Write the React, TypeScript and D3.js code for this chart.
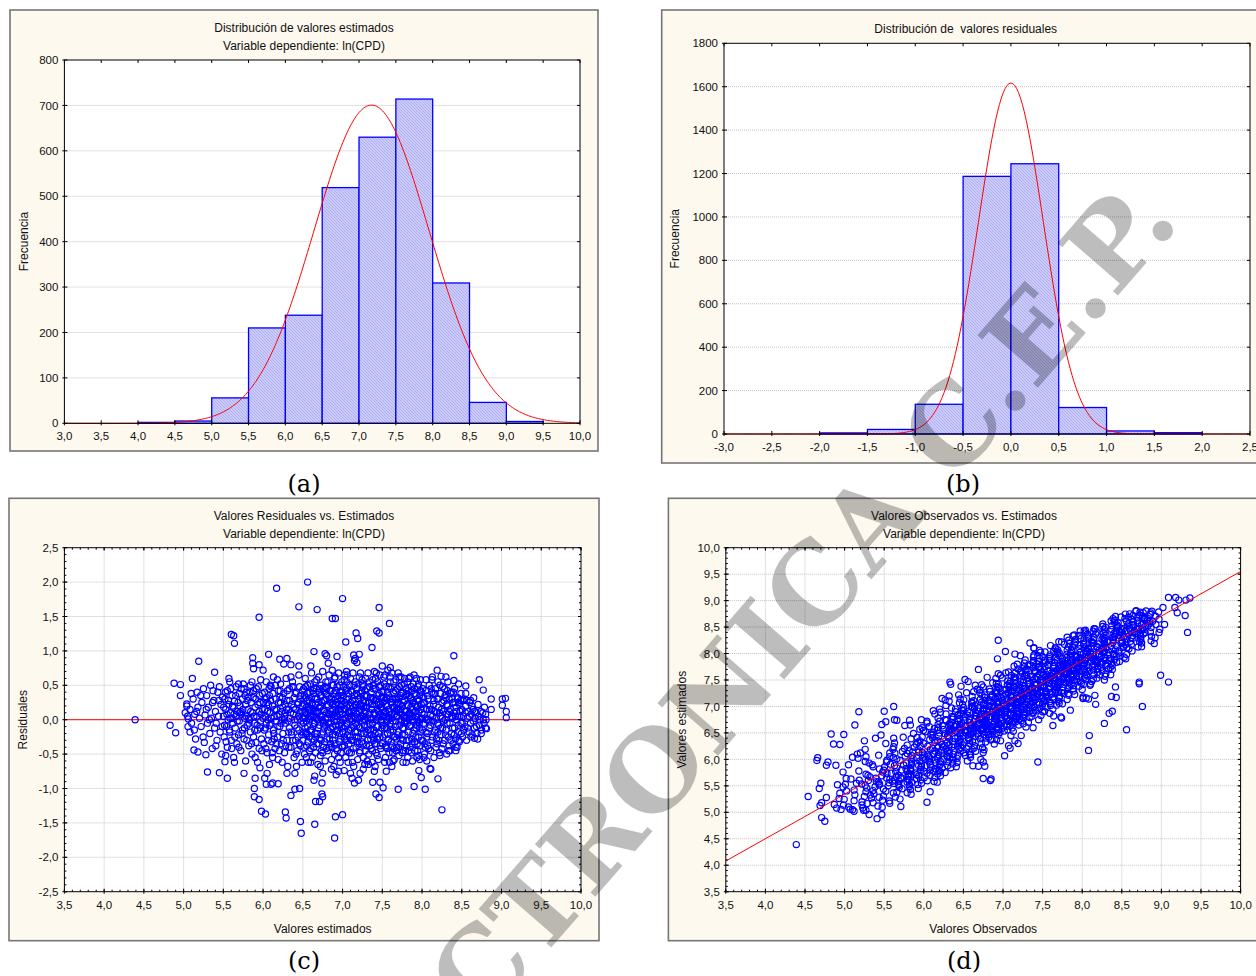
import React from 'react'
import * as d3 from 'd3'

// ---- histogram (a): valores estimados ln(CPD), bins of 0.5
const estEdges = [3.0, 3.5, 4.0, 4.5, 5.0, 5.5, 6.0, 6.5, 7.0, 7.5, 8.0, 8.5, 9.0, 9.5]
const estCounts = [0, 0, 2, 5, 56, 210, 238, 519, 630, 714, 309, 46, 4, 0]
const estXTicks = [3.0, 3.5, 4.0, 4.5, 5.0, 5.5, 6.0, 6.5, 7.0, 7.5, 8.0, 8.5, 9.0, 9.5, 10.0]
const estYTicks = [0, 100, 200, 300, 400, 500, 600, 700, 800]

// ---- histogram (b): residuales
const residEdges = [-3.0, -2.5, -2.0, -1.5, -1.0, -0.5, 0.0, 0.5, 1.0, 1.5, 2.0]
const residCounts = [0, 0, 5, 21, 137, 1187, 1245, 122, 14, 6, 0]
const residXTicks = [-3.0, -2.5, -2.0, -1.5, -1.0, -0.5, 0.0, 0.5, 1.0, 1.5, 2.0, 2.5]
const residYTicks = [0, 200, 400, 600, 800, 1000, 1200, 1400, 1600, 1800]

// fitted normal curves
const nObs = 2740
const binWidth = 0.5
const estMean = 7.17
const estSd = 0.78
const residMean = 0
const residSd = 0.338

// ---- scatter (c) / (d)
const scatterEstTicks = [3.5, 4.0, 4.5, 5.0, 5.5, 6.0, 6.5, 7.0, 7.5, 8.0, 8.5, 9.0, 9.5, 10.0]
const residTicks = [-2.5, -2.0, -1.5, -1.0, -0.5, 0.0, 0.5, 1.0, 1.5, 2.0, 2.5]
const fitIntercept = 1.135
const fitSlope = 0.8415

// observations as flat (estimado, residual) pairs; observado = estimado + residual
const outliersHigh = [
  6.56, 2.00, 6.17, 1.91, 7.00, 1.76, 6.45, 1.64, 6.68, 1.60, 7.46, 1.63, 5.95, 1.49, 6.87, 1.47,
  6.91, 1.47, 7.59, 1.40, 7.17, 1.26, 7.19, 1.18, 7.43, 1.29, 7.46, 1.26, 5.60, 1.24, 5.63, 1.22,
  5.64, 1.11, 7.04, 1.13, 7.37, 1.05, 6.64, 0.99, 6.07, 0.95, 5.19, 0.85, 8.40, 0.93, 5.87, 0.90,
  5.87, 0.82, 6.21, 0.88, 6.30, 0.89, 6.26, 0.81, 6.78, 0.96, 6.80, 0.93, 6.93, 0.92, 7.14, 0.94,
  7.16, 0.89, 7.21, 0.95, 5.39, 0.69, 5.11, 0.60, 4.88, 0.53, 4.96, 0.51, 4.96, 0.35,
  6.35, 0.80, 6.45, 0.78, 6.60, 0.78, 6.82, 0.82, 7.05, 0.70, 7.15, 0.86, 7.18, 0.83, 7.50, 0.78,
  7.60, 0.76, 5.95, 0.80, 6.00, 0.72, 5.88, 0.74, 8.19, 0.72, 8.24, 0.63, 8.30, 0.62, 8.46, 0.52,
]
const outliersLow = [
  5.13, -0.44, 5.18, -0.47, 5.28, -0.51, 5.30, -0.76, 5.45, -0.77, 5.55, -0.85, 5.52, -0.61,
  5.76, -0.78, 5.89, -1.00, 5.89, -1.12, 5.95, -1.16, 5.98, -1.33, 6.03, -1.37, 6.04, -0.94,
  6.10, -0.94, 6.19, -0.93, 6.28, -1.34, 6.29, -1.43, 6.35, -1.10, 6.40, -1.01, 6.46, -1.00,
  6.47, -1.48, 6.48, -1.65, 6.65, -1.52, 6.66, -1.19, 6.71, -1.19, 6.74, -1.08, 6.75, -1.12,
  6.90, -1.72, 6.91, -1.41, 7.00, -1.38, 6.65, -0.82, 6.74, -0.92, 7.02, -0.74, 7.38, -0.91,
  7.47, -0.91, 7.42, -1.08, 7.46, -1.13, 7.51, -0.99, 7.70, -1.01, 7.90, -0.97, 8.04, -1.01,
  8.20, -0.86, 8.25, -1.31, 7.96, -0.74, 7.99, -0.84, 8.10, -0.71, 8.11, -0.72, 8.06, -0.60,
  7.12, -0.85, 7.15, -0.92, 7.20, -0.88, 7.22, -0.78, 7.26, -0.72, 7.10, -0.78, 6.92, -0.80,
  6.86, -0.72, 6.75, -0.78, 6.64, -0.88, 6.95, -0.75, 7.55, -0.75, 7.62, -0.68, 7.40, -0.75,
  6.30, -0.78, 6.40, -0.78, 6.05, -0.78, 6.12, -0.92, 6.02, -0.85, 5.90, -0.85,
]
const outliersEnds = [
  4.39, 0.00, 4.83, -0.08, 4.90, -0.19, 5.04, 0.23, 5.05, 0.05, 5.06, 0.01, 5.08, -0.18,
  9.01, 0.30, 9.05, 0.31, 9.01, 0.21, 9.06, 0.12, 9.06, 0.03, 8.87, 0.30, 8.87, 0.15,
  8.77, 0.43, 8.72, 0.58, 8.55, 0.49, 8.61, 0.28, 8.40, 0.57, 8.66, -0.27, 8.81, -0.13,
]
const cloud50 = [
  5.02, 0.10, 5.04, 0.20, 5.08, 0.15, 5.10, -0.05, 5.12, 0.30, 5.14, 0.08, 5.15, -0.28, 5.17, 0.40,
  5.18, 0.18, 5.20, 0.02, 5.22, -0.10, 5.23, 0.25, 5.25, 0.45, 5.26, -0.33, 5.27, 0.07, 5.29, 0.35,
  5.30, -0.05, 5.31, 0.18, 5.33, -0.20, 5.34, 0.50, 5.35, 0.02, 5.36, -0.42, 5.38, 0.28, 5.39, -0.12,
  5.40, 0.12, 5.42, -0.30, 5.43, 0.40, 5.44, 0.05, 5.46, -0.18, 5.47, 0.22, 5.48, -0.50, 5.49, 0.33,
  5.45, 0.48, 5.41, -0.05, 5.37, 0.42,
  5.055, -0.10, 5.095, 0.38, 5.135, -0.15, 5.165, 0.12, 5.215, 0.35, 5.245, -0.25, 5.285, 0.15,
  5.325, 0.00, 5.365, 0.25, 5.405, -0.38, 5.445, 0.28, 5.485, -0.10,
]
const cloud55 = [
  5.50, 0.05, 5.51, -0.25, 5.52, 0.30, 5.53, 0.15, 5.54, -0.10, 5.55, 0.42, 5.55, -0.40, 5.56, 0.00,
  5.57, 0.22, 5.58, -0.18, 5.58, 0.55, 5.59, 0.10, 5.60, -0.30, 5.61, 0.35, 5.62, -0.05, 5.62, 0.18,
  5.63, -0.55, 5.64, 0.27, 5.65, -0.12, 5.66, 0.48, 5.66, 0.05, 5.67, -0.35, 5.68, 0.12, 5.69, -0.22,
  5.70, 0.38, 5.70, -0.02, 5.71, 0.20, 5.72, -0.45, 5.73, 0.08, 5.74, 0.30, 5.74, -0.15, 5.75, 0.52,
  5.76, -0.28, 5.77, 0.02, 5.78, 0.22, 5.78, -0.60, 5.79, 0.40, 5.80, -0.08, 5.81, 0.15, 5.82, -0.38,
  5.82, 0.33, 5.83, 0.00, 5.84, -0.18, 5.85, 0.25, 5.86, 0.55, 5.86, -0.50, 5.87, 0.10, 5.88, -0.25,
  5.88, 0.42, 5.89, -0.05, 5.90, 0.18, 5.91, -0.33, 5.91, 0.30, 5.92, 0.05, 5.93, -0.62, 5.93, -0.15,
  5.94, 0.48, 5.95, 0.12, 5.95, -0.42, 5.96, 0.25, 5.97, -0.02, 5.97, 0.58, 5.98, -0.28, 5.99, 0.15,
  5.99, 0.38, 5.53, -0.52, 5.57, 0.60, 5.64, -0.62, 5.69, 0.52, 5.76, 0.45, 5.84, 0.50, 5.90, -0.55,
  5.96, -0.70, 5.61, 0.02, 5.72, 0.12, 5.80, 0.28,
  5.505, 0.18, 5.515, -0.08, 5.525, 0.40, 5.535, -0.32, 5.545, 0.08, 5.565, 0.28, 5.575, -0.15,
  5.585, 0.02, 5.595, 0.45, 5.605, -0.42, 5.615, 0.20, 5.635, 0.08, 5.645, -0.25, 5.655, 0.35,
  5.675, -0.02, 5.685, 0.25, 5.695, -0.40, 5.705, 0.10, 5.725, 0.45, 5.735, -0.20, 5.745, 0.15,
  5.765, -0.12, 5.775, 0.35, 5.785, 0.05, 5.795, -0.30, 5.815, 0.02, 5.825, -0.05, 5.835, 0.40,
  5.845, 0.12, 5.855, -0.35, 5.875, 0.32, 5.885, 0.05, 5.895, -0.15, 5.915, 0.45, 5.925, -0.08,
  5.935, 0.22, 5.955, 0.35, 5.965, -0.12, 5.975, 0.08, 5.985, -0.45,
]
const cloud60 = [
  6.00, 0.02, 6.01, -0.35, 6.02, 0.40, 6.02, 0.15, 6.03, -0.12, 6.04, 0.55, 6.05, -0.48, 6.05, 0.25,
  6.06, 0.00, 6.07, -0.22, 6.08, 0.35, 6.08, -0.65, 6.09, 0.10, 6.10, -0.05, 6.10, 0.48, 6.11, -0.32,
  6.12, 0.20, 6.13, -0.15, 6.13, 0.62, 6.14, 0.05, 6.15, -0.42, 6.16, 0.30, 6.16, -0.02, 6.17, 0.15,
  6.18, -0.25, 6.19, 0.42, 6.19, -0.58, 6.20, 0.08, 6.21, -0.10, 6.22, 0.25, 6.22, 0.52, 6.23, -0.35,
  6.24, 0.00, 6.25, 0.18, 6.25, -0.20, 6.26, 0.38, 6.27, -0.48, 6.28, 0.10, 6.28, -0.05, 6.29, 0.60,
  6.30, 0.28, 6.30, -0.30, 6.31, -0.68, 6.32, 0.15, 6.33, -0.12, 6.33, 0.45, 6.34, 0.02, 6.35, -0.40,
  6.36, 0.22, 6.36, -0.22, 6.37, 0.55, 6.38, 0.08, 6.39, -0.55, 6.39, 0.32, 6.40, -0.08, 6.41, 0.15,
  6.41, -0.30, 6.42, 0.40, 6.43, 0.00, 6.43, -0.45, 6.44, 0.25, 6.45, -0.15, 6.45, 0.65, 6.46, 0.10,
  6.47, -0.38, 6.47, 0.35, 6.48, -0.02, 6.49, 0.20, 6.49, -0.62, 6.04, -0.05, 6.12, -0.55, 6.18, 0.58,
  6.24, -0.62, 6.35, 0.62, 6.42, -0.68, 6.07, 0.22, 6.14, -0.28, 6.21, 0.33, 6.27, 0.05, 6.32, -0.18,
  6.38, 0.48, 6.44, -0.25, 6.46, 0.48, 6.03, 0.30, 6.09, 0.50,
  6.005, 0.25, 6.015, -0.15, 6.025, 0.05, 6.035, -0.42, 6.045, 0.32, 6.055, 0.12, 6.065, -0.30,
  6.075, 0.45, 6.085, -0.08, 6.095, 0.28, 6.105, 0.02, 6.115, -0.48, 6.125, 0.38, 6.135, -0.20,
  6.145, 0.15, 6.155, 0.50, 6.165, -0.35, 6.175, 0.05, 6.185, -0.10, 6.195, 0.25, 6.205, -0.45,
  6.215, 0.42, 6.225, -0.05, 6.235, 0.12, 6.245, 0.32, 6.255, -0.30, 6.265, 0.00, 6.275, 0.22,
  6.285, -0.38, 6.295, 0.15, 6.305, 0.42, 6.315, -0.02, 6.325, -0.40, 6.335, 0.28, 6.345, 0.10,
  6.355, -0.18, 6.365, 0.48, 6.375, -0.30, 6.385, 0.18, 6.395, 0.00, 6.405, 0.38, 6.415, -0.50,
  6.425, -0.12, 6.435, 0.22, 6.445, 0.05, 6.455, -0.35, 6.465, 0.30, 6.475, 0.12, 6.485, -0.22,
  6.495, 0.42,
]
const cloud65 = [
  6.50, 0.12, 6.50, -0.30, 6.51, 0.45, 6.51, -0.05, 6.52, 0.22, 6.52, -0.50, 6.53, 0.02, 6.53, 0.60,
  6.54, -0.18, 6.54, 0.32, 6.55, -0.38, 6.55, 0.08, 6.56, 0.50, 6.56, -0.10, 6.57, 0.18, 6.57, -0.62,
  6.58, 0.28, 6.58, -0.25, 6.59, 0.00, 6.59, 0.40, 6.60, -0.42, 6.60, 0.15, 6.61, 0.68, 6.61, -0.15,
  6.62, 0.25, 6.62, -0.55, 6.63, 0.05, 6.63, 0.38, 6.64, -0.30, 6.64, 0.12, 6.65, 0.55, 6.65, -0.05,
  6.66, -0.48, 6.66, 0.22, 6.67, 0.02, 6.67, 0.45, 6.68, -0.20, 6.68, 0.30, 6.69, -0.65, 6.69, 0.10,
  6.70, 0.62, 6.70, -0.35, 6.71, 0.18, 6.71, -0.08, 6.72, 0.35, 6.72, -0.52, 6.73, 0.05, 6.73, 0.50,
  6.74, -0.22, 6.74, 0.25, 6.75, -0.02, 6.75, 0.70, 6.76, -0.40, 6.76, 0.15, 6.77, 0.40, 6.77, -0.12,
  6.78, -0.60, 6.78, 0.28, 6.79, 0.00, 6.79, 0.55, 6.80, -0.28, 6.80, 0.10, 6.81, 0.35, 6.81, -0.45,
  6.82, 0.20, 6.82, -0.05, 6.83, 0.65, 6.83, -0.18, 6.84, 0.08, 6.84, 0.42, 6.85, -0.35, 6.85, 0.25,
  6.86, -0.58, 6.86, 0.02, 6.87, 0.50, 6.87, -0.10, 6.88, 0.15, 6.88, -0.30, 6.89, 0.38, 6.89, -0.68,
  6.90, 0.05, 6.90, 0.60, 6.91, -0.22, 6.91, 0.22, 6.92, -0.42, 6.92, 0.12, 6.93, 0.48, 6.93, -0.02,
  6.94, -0.15, 6.94, 0.30, 6.95, -0.55, 6.95, 0.68, 6.96, 0.08, 6.96, -0.32, 6.97, 0.40, 6.97, 0.00,
  6.98, -0.48, 6.98, 0.20, 6.99, 0.55, 6.99, -0.10, 6.52, 0.35, 6.55, -0.20, 6.58, 0.05, 6.61, 0.32,
  6.63, -0.10, 6.66, -0.25, 6.68, 0.12, 6.71, 0.45, 6.73, -0.30, 6.76, -0.05, 6.78, 0.48, 6.81, 0.02,
  6.83, -0.40, 6.86, 0.32, 6.88, 0.08, 6.91, -0.08, 6.93, 0.25, 6.96, -0.20, 6.98, 0.35, 6.53, -0.12,
  6.57, 0.15, 6.64, 0.45, 6.70, 0.00, 6.75, -0.48, 6.80, 0.45, 6.85, -0.12, 6.90, -0.50, 6.95, 0.15,
  6.60, -0.62, 6.72, -0.68, 6.87, 0.72, 6.97, -0.62,
  6.505, 0.02, 6.505, -0.18, 6.515, 0.30, 6.515, -0.40, 6.525, 0.10, 6.535, -0.22, 6.535, 0.48,
  6.545, 0.18, 6.545, -0.02, 6.555, 0.28, 6.565, -0.32, 6.565, 0.38, 6.575, 0.02, 6.585, -0.45,
  6.585, 0.15, 6.595, 0.52, 6.595, -0.15, 6.605, 0.05, 6.615, -0.28, 6.615, 0.22, 6.625, 0.42,
  6.635, -0.40, 6.635, 0.15, 6.645, -0.05, 6.655, 0.30, 6.655, -0.20, 6.665, 0.10, 6.675, -0.35,
  6.675, 0.58, 6.685, 0.00, 6.695, 0.25, 6.695, -0.12, 6.705, 0.40, 6.715, -0.28, 6.715, 0.05,
  6.725, 0.20, 6.735, -0.45, 6.735, 0.35, 6.745, 0.00, 6.755, -0.18, 6.755, 0.45, 6.765, 0.28,
  6.775, -0.32, 6.775, 0.12, 6.785, -0.08, 6.795, 0.38, 6.795, -0.42, 6.805, 0.22, 6.815, -0.15,
  6.815, 0.55, 6.825, 0.08, 6.835, -0.28, 6.835, 0.30, 6.845, -0.05, 6.855, 0.42, 6.855, 0.12,
  6.865, -0.40, 6.875, 0.22, 6.875, -0.22, 6.885, 0.50, 6.895, -0.02, 6.895, 0.28, 6.905, -0.35,
  6.915, 0.10, 6.915, 0.42, 6.925, -0.18, 6.935, 0.05, 6.935, -0.45, 6.945, 0.35, 6.955, -0.08,
  6.955, 0.22, 6.965, 0.50, 6.975, -0.28, 6.975, 0.12, 6.985, -0.05, 6.985, 0.28, 6.995, -0.38,
  6.995, 0.40, 6.545, -0.55, 6.905, 0.62,
]
const cloud70 = [
  7.00, 0.08, 7.00, -0.40, 7.01, 0.35, 7.01, -0.12, 7.02, 0.58, 7.02, 0.15, 7.03, -0.28, 7.03, 0.02,
  7.04, 0.42, 7.04, -0.55, 7.05, 0.20, 7.05, -0.05, 7.06, 0.65, 7.06, -0.22, 7.07, 0.10, 7.07, -0.62,
  7.08, 0.30, 7.08, -0.35, 7.09, 0.00, 7.09, 0.50, 7.10, -0.15, 7.10, 0.25, 7.11, -0.48, 7.11, 0.12,
  7.12, 0.40, 7.12, -0.02, 7.13, -0.30, 7.13, 0.68, 7.14, 0.18, 7.14, -0.68, 7.15, 0.05, 7.15, 0.35,
  7.16, -0.18, 7.16, 0.55, 7.17, -0.40, 7.17, 0.22, 7.18, -0.08, 7.18, 0.45, 7.19, 0.02, 7.19, -0.58,
  7.20, 0.30, 7.20, -0.25, 7.21, 0.12, 7.21, 0.62, 7.22, -0.12, 7.22, -0.45, 7.23, 0.38, 7.23, 0.05,
  7.24, -0.32, 7.24, 0.20, 7.25, 0.52, 7.25, -0.02, 7.26, -0.55, 7.26, 0.28, 7.27, 0.10, 7.27, -0.20,
  7.28, 0.42, 7.28, -0.65, 7.29, 0.00, 7.29, 0.60, 7.30, -0.38, 7.30, 0.18, 7.31, 0.35, 7.31, -0.10,
  7.32, 0.68, 7.32, -0.28, 7.33, 0.08, 7.33, -0.50, 7.34, 0.25, 7.34, 0.48, 7.35, -0.15, 7.35, 0.02,
  7.36, -0.42, 7.36, 0.40, 7.37, 0.15, 7.37, -0.62, 7.38, 0.58, 7.38, -0.05, 7.39, 0.30, 7.39, -0.30,
  7.40, 0.70, 7.40, 0.10, 7.41, -0.20, 7.41, 0.45, 7.42, -0.48, 7.42, 0.00, 7.43, 0.22, 7.43, -0.35,
  7.44, 0.55, 7.44, -0.10, 7.45, 0.12, 7.45, -0.58, 7.46, 0.38, 7.46, 0.05, 7.47, -0.25, 7.47, 0.65,
  7.48, 0.18, 7.48, -0.42, 7.49, 0.32, 7.49, -0.02, 7.02, -0.25, 7.05, 0.45, 7.08, 0.12, 7.11, -0.30,
  7.13, 0.28, 7.16, 0.02, 7.19, 0.35, 7.21, -0.35, 7.24, 0.42, 7.27, 0.00, 7.29, 0.25, 7.32, -0.15,
  7.34, -0.38, 7.37, 0.32, 7.39, 0.50, 7.42, 0.30, 7.44, -0.28, 7.47, 0.08, 7.06, -0.45, 7.14, -0.10,
  7.22, 0.22, 7.31, -0.60, 7.41, -0.68, 7.48, 0.50, 7.03, 0.25, 7.18, -0.25, 7.26, 0.48, 7.36, -0.22,
  7.45, 0.25, 7.10, 0.60,
  7.005, 0.22, 7.005, -0.18, 7.015, 0.48, 7.015, 0.00, 7.025, -0.38, 7.035, 0.15, 7.035, -0.10,
  7.045, 0.30, 7.055, -0.30, 7.055, 0.55, 7.065, 0.05, 7.075, -0.15, 7.075, 0.38, 7.085, -0.48,
  7.095, 0.20, 7.095, -0.25, 7.105, 0.42, 7.115, 0.02, 7.115, -0.12, 7.125, 0.28, 7.135, -0.42,
  7.135, 0.12, 7.145, 0.50, 7.155, -0.25, 7.155, 0.22, 7.165, -0.05, 7.175, 0.38, 7.175, 0.08,
  7.185, -0.32, 7.195, 0.18, 7.195, 0.52, 7.205, -0.10, 7.215, 0.02, 7.215, -0.48, 7.225, 0.32,
  7.235, -0.20, 7.235, 0.15, 7.245, 0.58, 7.255, 0.05, 7.255, -0.35, 7.265, 0.20, 7.275, -0.08,
  7.275, 0.35, 7.285, -0.45, 7.295, 0.12, 7.295, -0.18, 7.305, 0.45, 7.315, 0.02, 7.315, -0.30,
  7.325, 0.25, 7.335, -0.05, 7.335, 0.55, 7.345, 0.10, 7.355, -0.28, 7.355, 0.32, 7.365, 0.00,
  7.375, -0.45, 7.375, 0.22, 7.385, 0.45, 7.395, -0.15, 7.395, 0.08, 7.405, -0.35, 7.415, 0.28,
  7.415, 0.60, 7.425, -0.10, 7.435, 0.15, 7.435, -0.52, 7.445, 0.35, 7.455, -0.20, 7.455, 0.02,
  7.465, 0.48, 7.475, -0.38, 7.475, 0.22, 7.485, 0.00, 7.495, -0.12, 7.495, 0.40, 7.025, 0.65,
  7.125, -0.62, 7.225, 0.68, 7.325, -0.65, 7.425, 0.68, 7.085, 0.10, 7.185, -0.18, 7.285, 0.18,
  7.385, -0.25,
]
const cloud75 = [
  7.50, 0.15, 7.50, -0.35, 7.51, 0.42, 7.51, -0.08, 7.52, 0.62, 7.52, 0.05, 7.53, -0.22, 7.53, 0.28,
  7.54, -0.55, 7.54, 0.10, 7.55, 0.48, 7.55, -0.12, 7.56, 0.20, 7.56, -0.42, 7.57, 0.72, 7.57, 0.00,
  7.58, -0.28, 7.58, 0.35, 7.59, 0.12, 7.59, -0.62, 7.60, 0.55, 7.60, -0.05, 7.61, 0.25, 7.61, -0.32,
  7.62, 0.02, 7.62, 0.68, 7.63, -0.48, 7.63, 0.18, 7.64, 0.40, 7.64, -0.15, 7.65, 0.08, 7.65, -0.58,
  7.66, 0.30, 7.66, -0.25, 7.67, 0.58, 7.67, -0.02, 7.68, 0.15, 7.68, -0.40, 7.69, 0.45, 7.69, 0.05,
  7.70, -0.18, 7.70, 0.25, 7.71, -0.52, 7.71, 0.62, 7.72, 0.10, 7.72, -0.08, 7.73, 0.35, 7.73, -0.35,
  7.74, 0.00, 7.74, 0.50, 7.75, -0.22, 7.75, 0.20, 7.76, -0.62, 7.76, 0.40, 7.77, 0.05, 7.77, -0.12,
  7.78, 0.28, 7.78, 0.60, 7.79, -0.45, 7.79, 0.12, 7.80, -0.02, 7.80, 0.45, 7.81, -0.30, 7.81, 0.22,
  7.82, 0.55, 7.82, -0.55, 7.83, 0.08, 7.83, -0.18, 7.84, 0.35, 7.84, 0.02, 7.85, -0.40, 7.85, 0.62,
  7.86, 0.18, 7.86, -0.08, 7.87, -0.28, 7.87, 0.42, 7.88, 0.00, 7.88, -0.60, 7.89, 0.25, 7.89, 0.52,
  7.90, -0.15, 7.90, 0.10, 7.91, -0.45, 7.91, 0.38, 7.92, 0.05, 7.92, -0.25, 7.93, 0.60, 7.93, 0.18,
  7.94, -0.35, 7.94, 0.30, 7.95, -0.02, 7.95, 0.48, 7.96, -0.52, 7.96, 0.12, 7.97, 0.35, 7.97, -0.12,
  7.98, 0.58, 7.98, 0.00, 7.99, -0.30, 7.99, 0.22, 7.51, 0.25, 7.54, -0.38, 7.56, 0.05, 7.58, 0.48,
  7.61, -0.10, 7.63, 0.30, 7.66, 0.12, 7.68, -0.28, 7.71, 0.32, 7.73, 0.15, 7.76, -0.30, 7.78, -0.02,
  7.81, 0.38, 7.83, -0.45, 7.86, 0.30, 7.88, 0.15, 7.91, 0.22, 7.93, -0.08, 7.96, -0.25, 7.98, 0.42,
  7.53, -0.62, 7.60, 0.62, 7.70, 0.68, 7.80, -0.62, 7.90, 0.65, 7.97, -0.58, 7.55, 0.32, 7.65, -0.42,
  7.75, -0.48, 7.85, 0.08,
  7.505, 0.05, 7.505, -0.25, 7.515, 0.32, 7.525, -0.12, 7.525, 0.52, 7.535, 0.12, 7.545, -0.40,
  7.545, 0.22, 7.555, -0.02, 7.565, 0.40, 7.565, -0.20, 7.575, 0.15, 7.585, -0.48, 7.585, 0.02,
  7.595, 0.30, 7.605, -0.15, 7.605, 0.45, 7.615, 0.08, 7.625, -0.38, 7.625, 0.25, 7.635, -0.02,
  7.645, 0.55, 7.645, -0.25, 7.655, 0.18, 7.665, -0.10, 7.665, 0.42, 7.675, -0.45, 7.685, 0.05,
  7.685, 0.30, 7.695, -0.22, 7.705, 0.15, 7.705, -0.40, 7.715, 0.48, 7.725, -0.02, 7.725, 0.22,
  7.735, -0.28, 7.745, 0.38, 7.745, 0.08, 7.755, -0.12, 7.765, 0.25, 7.765, -0.45, 7.775, 0.52,
  7.785, 0.02, 7.785, -0.22, 7.795, 0.35, 7.805, -0.38, 7.805, 0.12, 7.815, -0.05, 7.825, 0.42,
  7.825, 0.20, 7.835, -0.30, 7.845, 0.10, 7.845, -0.10, 7.855, 0.32, 7.865, -0.48, 7.865, 0.48,
  7.875, 0.05, 7.885, -0.20, 7.885, 0.28, 7.895, -0.02, 7.905, 0.45, 7.905, -0.32, 7.915, 0.12,
  7.925, -0.12, 7.925, 0.35, 7.935, 0.00, 7.945, -0.45, 7.945, 0.20, 7.955, 0.52, 7.965, -0.05,
  7.965, 0.28, 7.975, -0.38, 7.985, 0.15, 7.985, -0.18, 7.995, 0.40, 7.995, 0.02, 7.535, 0.65,
  7.635, -0.60, 7.735, 0.62, 7.835, 0.60, 7.935, -0.55, 7.575, -0.30, 7.675, 0.22, 7.775, -0.05,
  7.875, -0.35,
]
const cloud80 = [
  8.00, 0.10, 8.01, -0.30, 8.01, 0.45, 8.02, -0.05, 8.03, 0.25, 8.03, -0.50, 8.04, 0.02, 8.05, 0.58,
  8.05, -0.18, 8.06, 0.15, 8.07, -0.38, 8.07, 0.35, 8.08, 0.00, 8.09, -0.12, 8.09, 0.50, 8.10, 0.20,
  8.11, -0.45, 8.11, 0.08, 8.12, 0.40, 8.13, -0.25, 8.13, 0.62, 8.14, -0.02, 8.15, 0.28, 8.15, -0.55,
  8.16, 0.12, 8.17, -0.15, 8.17, 0.45, 8.18, 0.02, 8.19, -0.35, 8.19, 0.30, 8.20, 0.55, 8.21, -0.08,
  8.21, 0.18, 8.22, -0.48, 8.23, 0.38, 8.23, 0.05, 8.24, -0.22, 8.25, 0.25, 8.25, -0.42, 8.26, 0.48,
  8.27, -0.02, 8.27, 0.12, 8.28, -0.30, 8.29, 0.35, 8.29, 0.00, 8.30, -0.15, 8.31, 0.22, 8.31, -0.50,
  8.32, 0.42, 8.33, 0.08, 8.33, -0.25, 8.34, 0.30, 8.35, -0.05, 8.35, -0.45, 8.36, 0.15, 8.37, 0.40,
  8.37, -0.20, 8.38, 0.02, 8.39, -0.35, 8.39, 0.25, 8.40, 0.10, 8.41, -0.12, 8.41, 0.45, 8.42, -0.28,
  8.43, 0.18, 8.43, 0.00, 8.44, -0.40, 8.45, 0.32, 8.45, 0.05, 8.46, -0.18, 8.47, 0.22, 8.47, -0.32,
  8.48, 0.12, 8.49, -0.05, 8.49, 0.38, 8.02, 0.32, 8.06, -0.25, 8.10, -0.02, 8.14, 0.38, 8.18, -0.28,
  8.22, 0.10, 8.26, -0.12, 8.30, 0.32, 8.34, -0.38, 8.38, 0.30, 8.42, 0.05, 8.46, 0.25, 8.04, -0.40,
  8.12, 0.15, 8.20, -0.18,
  8.005, -0.15, 8.015, 0.25, 8.025, 0.08, 8.035, -0.35, 8.045, 0.42, 8.055, 0.00, 8.065, -0.20,
  8.075, 0.30, 8.085, -0.42, 8.095, 0.15, 8.105, -0.08, 8.115, 0.45, 8.125, -0.30, 8.135, 0.05,
  8.145, 0.22, 8.155, -0.18, 8.165, 0.38, 8.175, -0.40, 8.185, 0.10, 8.195, -0.05, 8.205, 0.30,
  8.215, -0.30, 8.225, 0.50, 8.235, -0.12, 8.245, 0.15, 8.255, 0.02, 8.265, -0.35, 8.275, 0.28,
  8.285, 0.45, 8.295, -0.22, 8.305, 0.08, 8.315, -0.05, 8.325, 0.20, 8.335, -0.45, 8.345, 0.12,
  8.355, 0.38, 8.365, -0.30, 8.375, 0.05, 8.385, -0.12, 8.395, 0.40, 8.405, -0.22, 8.415, 0.25,
  8.425, -0.40, 8.435, 0.12, 8.445, 0.30, 8.455, -0.08, 8.465, -0.30, 8.475, 0.05, 8.485, 0.28,
  8.495, -0.20, 8.025, -0.55, 8.125, 0.58, 8.225, -0.52, 8.325, 0.55, 8.425, -0.45,
]
const cloud85 = [
  8.50, 0.15, 8.51, -0.25, 8.52, 0.05, 8.53, 0.30, 8.54, -0.10, 8.55, 0.20, 8.56, -0.30, 8.57, 0.02,
  8.58, 0.12, 8.59, -0.18, 8.60, 0.25, 8.61, -0.05, 8.62, 0.08, 8.63, -0.22, 8.64, 0.15, 8.66, -0.12,
  8.67, 0.02, 8.68, 0.10, 8.69, -0.20, 8.71, 0.05, 8.72, -0.08, 8.74, 0.12, 8.75, -0.15, 8.77, 0.00,
  8.78, -0.05, 8.80, 0.08, 8.80, -0.12, 8.55, 0.38, 8.65, 0.32, 8.70, -0.28,
  8.505, -0.05, 8.515, 0.28, 8.525, -0.15, 8.545, 0.10, 8.565, 0.28, 8.575, -0.12, 8.595, 0.05,
  8.615, -0.25, 8.625, 0.20, 8.645, -0.02, 8.665, 0.12, 8.685, -0.10, 8.705, 0.22, 8.725, 0.00,
  8.745, -0.20, 8.765, 0.10, 8.785, 0.18, 8.805, 0.00,
]

const toPoints = (flat: number[]) => d3.range(0, flat.length, 2).map(i => ({ est: flat[i], res: flat[i + 1] }))
const observations = [outliersHigh, outliersLow, outliersEnds, cloud50, cloud55, cloud60, cloud65, cloud70, cloud75, cloud80, cloud85].flatMap(toPoints)

const locale = d3.formatLocale({ decimal: ',', thousands: '.', grouping: [3], currency: ['', ''], minus: '-' })
const fmtDec = locale.format('.1f')
const fmtInt = locale.format('d')

const FONT = 'Arial, "Liberation Sans", sans-serif'
const BLUE = '#0000ff'
const RED = '#ff0000'
const CREAM = '#fdf9ef'

const normalPdf = (v: number, m: number, s: number) => Math.exp(-0.5 * ((v - m) / s) ** 2) / (s * Math.sqrt(2 * Math.PI))

const Frame = ({ x, y, w, h }) => (
  <rect x={x} y={y} width={w} height={h} fill={CREAM} stroke="#767676" strokeWidth={1.6} />
)

const Titles = ({ cx, lines, y0 }) => (
  <g fontFamily={FONT} fontSize={12} fill="#111" textAnchor="middle">
    {lines.map((t, i) => (
      <text key={t} x={cx} y={y0 + i * 18} style={{ whiteSpace: 'pre' }}>{t}</text>
    ))}
  </g>
)

const Caption = ({ x, y, label }) => (
  <text x={x} y={y} fontFamily='"DejaVu Serif", serif' fontSize={24} textAnchor="middle" fill="#000">{label}</text>
)

// plot box with grid, ticks and tick labels, children drawn in between
const PlotBox = ({ xs, ys, xTicks, yTicks, xFmt, yFmt, vGrid, minor, children }) => {
  const [l, r] = xs.range()
  const [b, t] = ys.range()
  const xMinor = minor ? d3.range(xTicks[0], xTicks[xTicks.length - 1] + 1e-9, 0.1) : []
  const yMinor = minor ? d3.range(yTicks[0], yTicks[yTicks.length - 1] + 1e-9, 0.1) : []
  return (
    <g>
      <rect x={l} y={t} width={r - l} height={b - t} fill="#fff" />
      {yTicks.slice(1, -1).map(v => (
        <line key={`gy${v}`} x1={l} x2={r} y1={ys(v)} y2={ys(v)} stroke="#c2c2c2" strokeDasharray="1 1" />
      ))}
      {vGrid && xTicks.slice(1, -1).map(v => (
        <line key={`gx${v}`} x1={xs(v)} x2={xs(v)} y1={t} y2={b} stroke="#c2c2c2" strokeDasharray="1 1" />
      ))}
      {children}
      <rect x={l} y={t} width={r - l} height={b - t} fill="none" stroke="#000" strokeWidth={1} />
      <g stroke="#000" strokeWidth={1}>
        {xMinor.map(v => (
          <g key={`mx${v}`}>
            <line x1={xs(v)} x2={xs(v)} y1={b} y2={b - 2} />
            <line x1={xs(v)} x2={xs(v)} y1={t} y2={t + 2} />
          </g>
        ))}
        {yMinor.map(v => (
          <g key={`my${v}`}>
            <line x1={l} x2={l + 2} y1={ys(v)} y2={ys(v)} />
            <line x1={r} x2={r - 2} y1={ys(v)} y2={ys(v)} />
          </g>
        ))}
        {xTicks.map(v => (
          <g key={`tx${v}`}>
            <line x1={xs(v)} x2={xs(v)} y1={b + 2} y2={b - 3} />
            <line x1={xs(v)} x2={xs(v)} y1={t} y2={t + 3} />
          </g>
        ))}
        {yTicks.map(v => (
          <g key={`ty${v}`}>
            <line x1={l - 2} x2={l + 3} y1={ys(v)} y2={ys(v)} />
            <line x1={r} x2={r - 3} y1={ys(v)} y2={ys(v)} />
          </g>
        ))}
      </g>
      <g fontFamily={FONT} fontSize={11.5} fill="#111">
        {xTicks.map(v => (
          <text key={`lx${v}`} x={xs(v)} y={b + 17} textAnchor="middle">{xFmt(v)}</text>
        ))}
        {yTicks.map(v => (
          <text key={`ly${v}`} x={l - 6} y={ys(v)} dy="0.36em" textAnchor="end">{yFmt(v)}</text>
        ))}
      </g>
    </g>
  )
}

const YLabel = ({ x, y, label }) => (
  <text transform={`translate(${x},${y}) rotate(-90)`} fontFamily={FONT} fontSize={12} fill="#111" textAnchor="middle">{label}</text>
)

const Histogram = ({ plot, edges, counts, xTicks, yTicks, mean, sd }) => {
  const xs = d3.scaleLinear().domain([xTicks[0], xTicks[xTicks.length - 1]]).range([plot.l, plot.r])
  const ys = d3.scaleLinear().domain([yTicks[0], yTicks[yTicks.length - 1]]).range([plot.b, plot.t])
  const curve = d3.line<number>()
    .x(v => xs(v))
    .y(v => ys(nObs * binWidth * normalPdf(v, mean, sd)))
  const samples = d3.range(xTicks[0], xTicks[xTicks.length - 1] + 1e-9, 0.02)
  return (
    <PlotBox xs={xs} ys={ys} xTicks={xTicks} yTicks={yTicks} xFmt={fmtDec} yFmt={fmtInt} vGrid={false} minor={false}>
      {edges.map((e, i) => counts[i] > 0 && (
        <rect key={`bar${e}`} x={xs(e)} y={ys(counts[i])} width={xs(e + binWidth) - xs(e)}
          height={ys(0) - ys(counts[i])} fill="url(#hatch)" stroke={BLUE} strokeWidth={1.3} />
      ))}
      <path d={curve(samples)} fill="none" stroke={RED} strokeWidth={1} />
    </PlotBox>
  )
}

export default function App() {
  const plotA = { l: 64.4, r: 580, t: 60, b: 423.3 }
  const plotB = { l: 724, r: 1250, t: 43.3, b: 434 }
  const plotC = { l: 64.4, r: 581, t: 547.7, b: 891.7 }
  const plotD = { l: 725.8, r: 1240.6, t: 547.7, b: 891.7 }

  const xC = d3.scaleLinear().domain([3.5, 10]).range([plotC.l, plotC.r])
  const yC = d3.scaleLinear().domain([-2.5, 2.5]).range([plotC.b, plotC.t])
  const xD = d3.scaleLinear().domain([3.5, 10]).range([plotD.l, plotD.r])
  const yD = d3.scaleLinear().domain([3.5, 10]).range([plotD.b, plotD.t])

  return (
    <div style={{ position: 'absolute', left: 0, top: 0 }}>
      <svg width={1256} height={976} style={{ display: 'block', background: '#fff' }}>
        <defs>
          <pattern id="hatch" width={3} height={3} patternUnits="userSpaceOnUse">
            <rect width={3} height={3} fill="#cbcbfb" />
            <path d="M0,0 L3,3" stroke="#a9a9ef" strokeWidth={0.8} />
          </pattern>
          <clipPath id="clipC"><rect x={plotC.l} y={plotC.t} width={plotC.r - plotC.l} height={plotC.b - plotC.t} /></clipPath>
          <clipPath id="clipD"><rect x={plotD.l} y={plotD.t} width={plotD.r - plotD.l} height={plotD.b - plotD.t} /></clipPath>
        </defs>

        {/* (a) */}
        <Frame x={10} y={10} w={588} h={441} />
        <Titles cx={304} y0={32} lines={['Distribución de valores estimados', 'Variable dependiente: ln(CPD)']} />
        <Histogram plot={plotA} edges={estEdges} counts={estCounts} xTicks={estXTicks} yTicks={estYTicks} mean={estMean} sd={estSd} />
        <YLabel x={28} y={241.6} label="Frecuencia" />
        <Caption x={304} y={492} label="(a)" />

        {/* (b) */}
        <Frame x={661.7} y={10} w={610} h={453} />
        <Titles cx={965.7} y0={33} lines={['Distribución de  valores residuales']} />
        <Histogram plot={plotB} edges={residEdges} counts={residCounts} xTicks={residXTicks} yTicks={residYTicks} mean={residMean} sd={residSd} />
        <YLabel x={678.8} y={238.7} label="Frecuencia" />
        <Caption x={963} y={492} label="(b)" />

        {/* (c) */}
        <Frame x={9} y={498.3} w={590} h={442.4} />
        <Titles cx={304} y0={519.7} lines={['Valores Residuales vs. Estimados', 'Variable dependiente: ln(CPD)']} />
        <PlotBox xs={xC} ys={yC} xTicks={scatterEstTicks} yTicks={residTicks} xFmt={fmtDec} yFmt={fmtDec} vGrid minor>
          <line x1={plotC.l} x2={plotC.r} y1={yC(0)} y2={yC(0)} stroke={RED} strokeWidth={1} />
          <g clipPath="url(#clipC)">
            {observations.map((p, i) => (
              <circle key={i} cx={xC(p.est)} cy={yC(p.res)} r={3.1} fill="none" stroke={BLUE} strokeWidth={1.2} />
            ))}
          </g>
        </PlotBox>
        <YLabel x={26.5} y={719.7} label="Residuales" />
        <text x={322.7} y={932.7} fontFamily={FONT} fontSize={12} fill="#111" textAnchor="middle">Valores estimados</text>
        <Caption x={304} y={969} label="(c)" />

        {/* (d) */}
        <Frame x={668.4} y={498.3} w={600} h={442.4} />
        <Titles cx={964} y0={520} lines={['Valores Observados vs. Estimados', 'Variable dependiente: ln(CPD)']} />
        <PlotBox xs={xD} ys={yD} xTicks={scatterEstTicks} yTicks={scatterEstTicks} xFmt={fmtDec} yFmt={fmtDec} vGrid minor>
          <g clipPath="url(#clipD)">
            {observations.map((p, i) => (
              <circle key={i} cx={xD(p.est + p.res)} cy={yD(p.est)} r={3.1} fill="none" stroke={BLUE} strokeWidth={1.2} />
            ))}
            <line x1={xD(3.5)} x2={xD(10)} y1={yD(fitIntercept + fitSlope * 3.5)} y2={yD(fitIntercept + fitSlope * 10)}
              stroke={RED} strokeWidth={1} />
          </g>
        </PlotBox>
        <YLabel x={685.7} y={719.7} label="Valores estimados" />
        <text x={983.2} y={932.7} fontFamily={FONT} fontSize={12} fill="#111" textAnchor="middle">Valores Observados</text>
        <Caption x={964} y={969} label="(d)" />

        {/* watermark */}
        <text x={1182} y={222} transform="rotate(-49, 1182, 222)" textAnchor="end"
          fontFamily='"DejaVu Serif", serif' fontWeight="bold" fontSize={110} fill="#000" fillOpacity={0.26}>
          ELECTRONICA C.E.P.
        </text>
      </svg>
    </div>
  )
}
